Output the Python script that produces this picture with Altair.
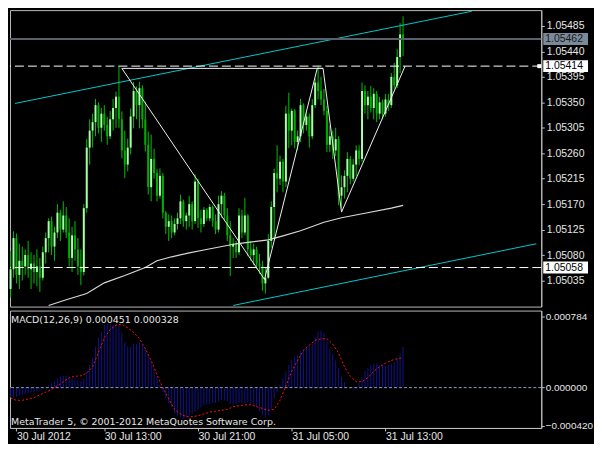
import altair as alt
import pandas as pd

# ---------------- data (M15 bars, 30 Jul 2012 05:00 -> 31 Jul 2012 14:30) ----------------
opens = [1.05020, 1.05055, 1.05110, 1.05045, 1.05070, 1.05060, 1.05080, 1.05055, 1.05065, 1.05050,
         1.05060, 1.05040, 1.05085, 1.05110, 1.05140, 1.05095, 1.05120, 1.05155, 1.05125, 1.05150,
         1.05120, 1.05075, 1.05115, 1.05090, 1.05060, 1.05050, 1.05163, 1.05270, 1.05300, 1.05315,
         1.05345, 1.05305, 1.05330, 1.05310, 1.05290, 1.05320, 1.05340, 1.05360, 1.05320, 1.05265,
         1.05240, 1.05270, 1.05325, 1.05370, 1.05345, 1.05375, 1.05320, 1.05275, 1.05200, 1.05250,
         1.05225, 1.05185, 1.05220, 1.05155, 1.05130, 1.05140, 1.05120, 1.05135, 1.05145, 1.05175,
         1.05140, 1.05150, 1.05170, 1.05140, 1.05210, 1.05145, 1.05135, 1.05160, 1.05145, 1.05165,
         1.05140, 1.05125, 1.05170, 1.05185, 1.05150, 1.05115, 1.05095, 1.05100, 1.05085, 1.05150,
         1.05120, 1.05150, 1.05090, 1.05080, 1.05090, 1.05065, 1.05060, 1.05030, 1.05040, 1.05105,
         1.05165, 1.05225, 1.05215, 1.05245, 1.05210, 1.05330, 1.05300, 1.05335, 1.05280, 1.05290,
         1.05345, 1.05310, 1.05325, 1.05290, 1.05345, 1.05385, 1.05370, 1.05355, 1.05335, 1.05275,
         1.05290, 1.05265, 1.05285, 1.05185, 1.05200, 1.05220, 1.05250, 1.05215, 1.05240, 1.05265,
         1.05250, 1.05370, 1.05345, 1.05360, 1.05340, 1.05365, 1.05330, 1.05350, 1.05330, 1.05355,
         1.05345, 1.05395, 1.05380, 1.05430, 1.05470]
highs = [1.05087, 1.05122, 1.05118, 1.05100, 1.05095, 1.05090, 1.05105, 1.05085, 1.05080, 1.05090,
         1.05075, 1.05095, 1.05120, 1.05145, 1.05148, 1.05130, 1.05170, 1.05160, 1.05175, 1.05165,
         1.05145, 1.05130, 1.05140, 1.05110, 1.05090, 1.05170, 1.05285, 1.05320, 1.05330, 1.05356,
         1.05350, 1.05340, 1.05345, 1.05325, 1.05335, 1.05356, 1.05369, 1.05414, 1.05334, 1.05300,
         1.05286, 1.05339, 1.05386, 1.05378, 1.05386, 1.05380, 1.05351, 1.05298, 1.05293, 1.05268,
         1.05232, 1.05233, 1.05225, 1.05158, 1.05152, 1.05150, 1.05145, 1.05155, 1.05187, 1.05178,
         1.05155, 1.05185, 1.05175, 1.05223, 1.05215, 1.05160, 1.05165, 1.05163, 1.05170, 1.05168,
         1.05152, 1.05185, 1.05193, 1.05190, 1.05163, 1.05140, 1.05110, 1.05105, 1.05163, 1.05160,
         1.05181, 1.05152, 1.05105, 1.05100, 1.05095, 1.05082, 1.05070, 1.05058, 1.05117, 1.05175,
         1.05233, 1.05274, 1.05256, 1.05250, 1.05344, 1.05367, 1.05339, 1.05338, 1.05300, 1.05356,
         1.05348, 1.05335, 1.05330, 1.05356, 1.05392, 1.05414, 1.05395, 1.05374, 1.05344, 1.05309,
         1.05300, 1.05305, 1.05290, 1.05221, 1.05230, 1.05262, 1.05255, 1.05250, 1.05274, 1.05274,
         1.05385, 1.05380, 1.05370, 1.05379, 1.05375, 1.05370, 1.05360, 1.05355, 1.05365, 1.05365,
         1.05402, 1.05420, 1.05444, 1.05490, 1.05502]
lows = [1.05005, 1.05040, 1.05030, 1.05020, 1.05035, 1.05045, 1.05040, 1.05020, 1.05030, 1.05025,
        1.05015, 1.05035, 1.05065, 1.05085, 1.05080, 1.05070, 1.05110, 1.05105, 1.05120, 1.05110,
        1.05060, 1.05050, 1.05070, 1.05045, 1.05027, 1.05044, 1.05155, 1.05240, 1.05270, 1.05290,
        1.05295, 1.05280, 1.05300, 1.05275, 1.05285, 1.05300, 1.05305, 1.05305, 1.05251, 1.05216,
        1.05228, 1.05258, 1.05304, 1.05320, 1.05304, 1.05304, 1.05263, 1.05187, 1.05175, 1.05215,
        1.05175, 1.05180, 1.05145, 1.05117, 1.05105, 1.05110, 1.05115, 1.05125, 1.05135, 1.05130,
        1.05125, 1.05130, 1.05125, 1.05135, 1.05128, 1.05120, 1.05130, 1.05140, 1.05140, 1.05130,
        1.05117, 1.05120, 1.05146, 1.05140, 1.05105, 1.05043, 1.05075, 1.05075, 1.05080, 1.05110,
        1.05115, 1.05078, 1.05070, 1.05062, 1.05055, 1.05047, 1.05017, 1.05012, 1.05038, 1.05093,
        1.05110, 1.05191, 1.05204, 1.05191, 1.05200, 1.05269, 1.05274, 1.05269, 1.05265, 1.05280,
        1.05295, 1.05300, 1.05270, 1.05285, 1.05340, 1.05355, 1.05345, 1.05327, 1.05262, 1.05262,
        1.05250, 1.05255, 1.05168, 1.05163, 1.05180, 1.05191, 1.05205, 1.05210, 1.05220, 1.05239,
        1.05245, 1.05330, 1.05320, 1.05332, 1.05320, 1.05315, 1.05320, 1.05320, 1.05325, 1.05335,
        1.05340, 1.05374, 1.05375, 1.05402, 1.05432]
closes = [1.05055, 1.05110, 1.05045, 1.05070, 1.05060, 1.05080, 1.05055, 1.05065, 1.05050, 1.05060,
          1.05040, 1.05085, 1.05110, 1.05140, 1.05095, 1.05120, 1.05155, 1.05125, 1.05150, 1.05120,
          1.05075, 1.05115, 1.05090, 1.05060, 1.05050, 1.05163, 1.05270, 1.05300, 1.05315, 1.05345,
          1.05305, 1.05330, 1.05310, 1.05290, 1.05320, 1.05340, 1.05360, 1.05320, 1.05265, 1.05240,
          1.05270, 1.05325, 1.05370, 1.05345, 1.05375, 1.05320, 1.05275, 1.05200, 1.05250, 1.05225,
          1.05185, 1.05220, 1.05155, 1.05130, 1.05140, 1.05120, 1.05135, 1.05145, 1.05175, 1.05140,
          1.05150, 1.05170, 1.05140, 1.05210, 1.05145, 1.05135, 1.05160, 1.05145, 1.05165, 1.05140,
          1.05125, 1.05170, 1.05185, 1.05150, 1.05115, 1.05095, 1.05100, 1.05085, 1.05150, 1.05120,
          1.05150, 1.05090, 1.05080, 1.05090, 1.05065, 1.05060, 1.05030, 1.05040, 1.05105, 1.05165,
          1.05225, 1.05215, 1.05245, 1.05210, 1.05330, 1.05300, 1.05335, 1.05280, 1.05290, 1.05345,
          1.05310, 1.05325, 1.05290, 1.05345, 1.05385, 1.05370, 1.05355, 1.05335, 1.05275, 1.05290,
          1.05265, 1.05285, 1.05185, 1.05200, 1.05220, 1.05250, 1.05215, 1.05240, 1.05265, 1.05250,
          1.05370, 1.05345, 1.05360, 1.05340, 1.05365, 1.05330, 1.05350, 1.05330, 1.05355, 1.05345,
          1.05395, 1.05380, 1.05430, 1.05470, 1.05462]

macd_hist = [-0.00011, -0.00011, -0.00010, -0.00009, -0.00008, -0.00007, -0.00006, -0.00005, -0.00005, -0.00004,
             -0.00003, -0.00001, 0.00001, 0.00003, 0.00005, 0.00007, 0.00010, 0.00012, 0.00013, 0.00013,
             0.00011, 0.00010, 0.00009, 0.00008, 0.00007, 0.00010, 0.00017, 0.00025, 0.00033, 0.00045,
             0.00055, 0.00062, 0.00069, 0.00070, 0.00070, 0.00069, 0.00070, 0.00068, 0.00060, 0.00050,
             0.00045, 0.00045, 0.00048, 0.00048, 0.00050, 0.00047, 0.00042, 0.00035, 0.00028, 0.00020,
             0.00012, 0.00003, -0.00005, -0.00012, -0.00017, -0.00022, -0.00028, -0.00031, -0.00033, -0.00034,
             -0.00033, -0.00031, -0.00029, -0.00027, -0.00025, -0.00022, -0.00020, -0.00019, -0.00018, -0.00017,
             -0.00017, -0.00015, -0.00014, -0.00014, -0.00015, -0.00018, -0.00019, -0.00018, -0.00017, -0.00017,
             -0.00017, -0.00016, -0.00018, -0.00019, -0.00021, -0.00026, -0.00030, -0.00033, -0.00031, -0.00024,
             -0.00012, -0.00005, 0.00003, 0.00010, 0.00018, 0.00025, 0.00031, 0.00034, 0.00036, 0.00040,
             0.00042, 0.00045, 0.00046, 0.00048, 0.00056, 0.00062, 0.00063, 0.00060, 0.00052, 0.00042,
             0.00037, 0.00030, 0.00021, 0.00012, 0.00006, 0.00000, -0.00001, -0.00002, 0.00001, 0.00005,
             0.00012, 0.00018, 0.00022, 0.00025, 0.00026, 0.00026, 0.00025, 0.00025, 0.00024, 0.00025,
             0.00026, 0.00028, 0.00032, 0.00038, 0.000451]

signal_idx = list(range(0, 135, 2))
signal_vals = [-0.000115, -0.00014, -0.00014, -0.000125, -0.00011, -0.00008, -0.00005, -0.00002, 0.00002, 0.000065,
               0.00011, 0.000125, 0.00013, 0.00016, 0.00023, 0.00039, 0.00055, 0.00064, 0.00069, 0.00070,
               0.00066, 0.00061, 0.00054, 0.00043, 0.00030, 0.00014, 0.0, -0.000125, -0.00024, -0.00029,
               -0.00032, -0.00032, -0.00031, -0.00029, -0.00027, -0.00026, -0.00025, -0.00024, -0.00021, -0.00020,
               -0.00019, -0.00019, -0.00021, -0.00023, -0.00025, -0.00024, -0.00014, 0.00002, 0.00018, 0.00030,
               0.00041, 0.00047, 0.00052, 0.00054, 0.00054, 0.00048, 0.00038, 0.00023, 0.000125, 0.000065,
               0.000065, 0.00011, 0.00018, 0.00023, 0.00027, 0.00030, 0.00032, 0.000328]

ma_idx = [13, 19, 26, 32, 39, 46, 50, 55, 61, 66, 77, 88, 93, 99, 107, 113, 121, 130, 134]
ma_vals = [1.04991, 1.05001, 1.05012, 1.05031, 1.05044, 1.05058, 1.05070, 1.05077, 1.05084,
           1.05089, 1.05100, 1.05107, 1.05114, 1.05123, 1.05138, 1.05146, 1.05154, 1.05163, 1.05168]

# channel lines: the visible parts only (enter/leave the price pane)
chan_upper_idx = [1.5, 157.5]
chan_upper_vals = [1.05348, 1.05511]
chan_lower_idx = [76.0, 179.5]
chan_lower_vals = [1.04991, 1.05100]

zig_idx = [38, 86.7, 104.7, 106.7, 113, 134.7]
zig_vals = [1.05410, 1.05037, 1.05410, 1.05410, 1.05156, 1.05414]
neck_idx = [38, 106.7]
neck_vals = [1.05410, 1.05410]

level_lines = [1.05414, 1.05058]
bid_price = 1.05462

price_ticks = [1.05485, 1.05440, 1.05395, 1.05350, 1.05305, 1.05260, 1.05215,
               1.05170, 1.05125, 1.05080, 1.05035]
macd_ticks = [0.000784, 0.0, -0.00042]
xtick_pos = [2, 32, 64, 96, 128]
xtick_labels = ["30 Jul 2012", "30 Jul 13:00", "30 Jul 21:00", "31 Jul 05:00", "31 Jul 13:00"]

macd_title = f"MACD(12,26,9) {macd_hist[-1]:.6f} {signal_vals[-1]:.6f}"
copyright_text = "MetaTrader 5, © 2001-2012 MetaQuotes Software Corp."

# ---------------- styling ----------------
FONT = "DejaVu Sans"
AFONT = "Liberation Sans"
FS = 9.5
LBL = "#e6e6e6"
AXC = "#c0c0c0"
W = 534
HP = 298
HM = 118

XS = alt.Scale(domain=[1.5, 1.5 + W / 3], nice=False, zero=False)
YP = alt.Scale(domain=[1.04989, 1.05513], nice=False, zero=False)
YM = alt.Scale(domain=[-0.000445, 0.00085], nice=False, zero=False)

price_axis = alt.Axis(orient="right", values=price_ticks, format=".5f", title=None, grid=False,
                      tickSize=3, labelPadding=2, labelFontSize=10.5, labelOverlap=False, labelFlush=False)
macd_axis = alt.Axis(orient="right", values=macd_ticks, format=".6f", title=None, grid=False,
                     tickSize=3, labelPadding=1, labelFontSize=10, labelOverlap=False, labelFlush=False)
label_expr = " : ".join(f"datum.value == {p} ? '{l}'" for p, l in zip(xtick_pos, xtick_labels)) + " : ''"
time_axis = alt.Axis(values=xtick_pos, labelExpr=label_expr, title=None, grid=False, tickSize=3,
                     labelAlign="left", labelBaseline="top", labelPadding=1, labelFontSize=10.5,
                     labelOverlap=False, labelFlush=False)

xp = alt.X("i:Q", scale=XS, axis=None)


def yp(f):
    return alt.Y(f"{f}:Q", scale=YP, axis=price_axis)


# ---------------- price panel ----------------
bars = pd.DataFrame({"i": list(range(len(opens))), "o": opens, "h": highs, "l": lows, "c": closes})

wicks = alt.Chart(bars).mark_rule(color="#00c000", strokeWidth=1).encode(x=xp, y=yp("l"), y2="h:Q")
bodies = alt.Chart(bars).mark_bar(size=2).encode(
    x=xp, y=yp("o"), y2="c:Q",
    color=alt.condition("datum.c >= datum.o", alt.value("#a6ffa6"), alt.value("#00b000")),
)

ma_df = pd.DataFrame({"i": ma_idx, "p": ma_vals})
ma_line = alt.Chart(ma_df).mark_line(color="#d8d8d8", strokeWidth=1.2, clip=True).encode(x=xp, y=yp("p"))

chan_df = pd.DataFrame({
    "i": chan_upper_idx + chan_lower_idx,
    "p": chan_upper_vals + chan_lower_vals,
    "g": ["u"] * len(chan_upper_idx) + ["l"] * len(chan_lower_idx),
})
channels = alt.Chart(chan_df).mark_line(color="#00c8cc", strokeWidth=1, clip=True).encode(
    x=xp, y=yp("p"), detail="g:N")

zig_df = pd.DataFrame({
    "i": zig_idx + neck_idx,
    "p": zig_vals + neck_vals,
    "g": ["z"] * len(zig_idx) + ["n"] * len(neck_idx),
})
zigzag = alt.Chart(zig_df).mark_line(color="#f0f0f0", strokeWidth=1, clip=True).encode(
    x=xp, y=yp("p"), detail="g:N")

lvl_df = pd.DataFrame({"p": level_lines})
levels = alt.Chart(lvl_df).mark_rule(color="#ffffff", strokeWidth=1, strokeDash=[9, 4]).encode(y=yp("p"))

bid_df = pd.DataFrame({"p": [bid_price]})
bid_line = alt.Chart(bid_df).mark_rule(color="#56616b", strokeWidth=2).encode(y=yp("p"))

lvl_box = alt.Chart(lvl_df).transform_calculate(
    top="datum.p + 0.000105", bot="datum.p - 0.000105"
).mark_rect(color="#ffffff").encode(x=alt.value(W + 2), x2=alt.value(W + 47), y=yp("top"), y2="bot:Q")
lvl_txt = alt.Chart(lvl_df).mark_text(align="left", baseline="middle", font=AFONT, fontSize=10.5,
                                      color="#000000").encode(
    x=alt.value(W + 4), y=yp("p"), text=alt.Text("p:Q", format=".5f"))

bid_box = alt.Chart(bid_df).transform_calculate(
    top="datum.p + 0.000105", bot="datum.p - 0.000105"
).mark_rect(color="#7a8a9a").encode(x=alt.value(W + 2), x2=alt.value(W + 47), y=yp("top"), y2="bot:Q")
bid_txt = alt.Chart(bid_df).mark_text(align="left", baseline="middle", font=AFONT, fontSize=10.5,
                                      color="#1a1a1a").encode(
    x=alt.value(W + 4), y=yp("p"), text=alt.Text("p:Q", format=".5f"))

marker = alt.Chart(pd.DataFrame({"p": [level_lines[0]]})).mark_square(
    size=16, color="#ffffff", opacity=1, filled=True).encode(x=alt.value(W - 2), y=yp("p"))

price_panel = alt.layer(
    wicks, bodies, ma_line, channels, levels, bid_line, zigzag,
    lvl_box, lvl_txt, bid_box, bid_txt, marker
).properties(width=W, height=HP)

# ---------------- MACD panel ----------------
xm = alt.X("i:Q", scale=XS, axis=time_axis)


def ym(f):
    return alt.Y(f"{f}:Q", scale=YM, axis=macd_axis)


hist_df = pd.DataFrame({"i": list(range(len(macd_hist))), "m": macd_hist})
hist = alt.Chart(hist_df).mark_bar(size=1, color="#12128e").encode(x=xm, y=ym("m"), y2=alt.datum(0))

zero_line = alt.Chart(pd.DataFrame({"m": [0.0]})).mark_rule(
    color="#8c9cc0", strokeWidth=1, strokeDash=[3, 2]).encode(y=ym("m"))

sig_df = pd.DataFrame({"i": signal_idx, "m": signal_vals})
signal = alt.Chart(sig_df).mark_line(color="#ff1010", strokeWidth=1, strokeDash=[2, 2]).encode(
    x=xm, y=ym("m"))

title_txt = alt.Chart(pd.DataFrame({"t": [macd_title]})).mark_text(
    align="left", baseline="middle", font=FONT, fontSize=FS, color=LBL).encode(
    x=alt.value(1), y=alt.value(9), text="t:N")
copy_txt = alt.Chart(pd.DataFrame({"t": [copyright_text]})).mark_text(
    align="left", baseline="middle", font=FONT, fontSize=FS, color=LBL).encode(
    x=alt.value(1), y=alt.value(HM - 6), text="t:N")

macd_panel = alt.layer(hist, zero_line, signal, title_txt, copy_txt).properties(width=W, height=HM)

chart = alt.vconcat(price_panel, macd_panel, spacing=2).properties(
    padding=0
).configure(
    background="#000000"
).configure_view(
    stroke="#b8b8b8", strokeWidth=1
).configure_axis(
    labelFont=AFONT, labelFontSize=10.5, labelColor=LBL, domainColor=AXC, tickColor=AXC
)

chart.save("out.html", embed_options={"renderer": "svg", "actions": False})
